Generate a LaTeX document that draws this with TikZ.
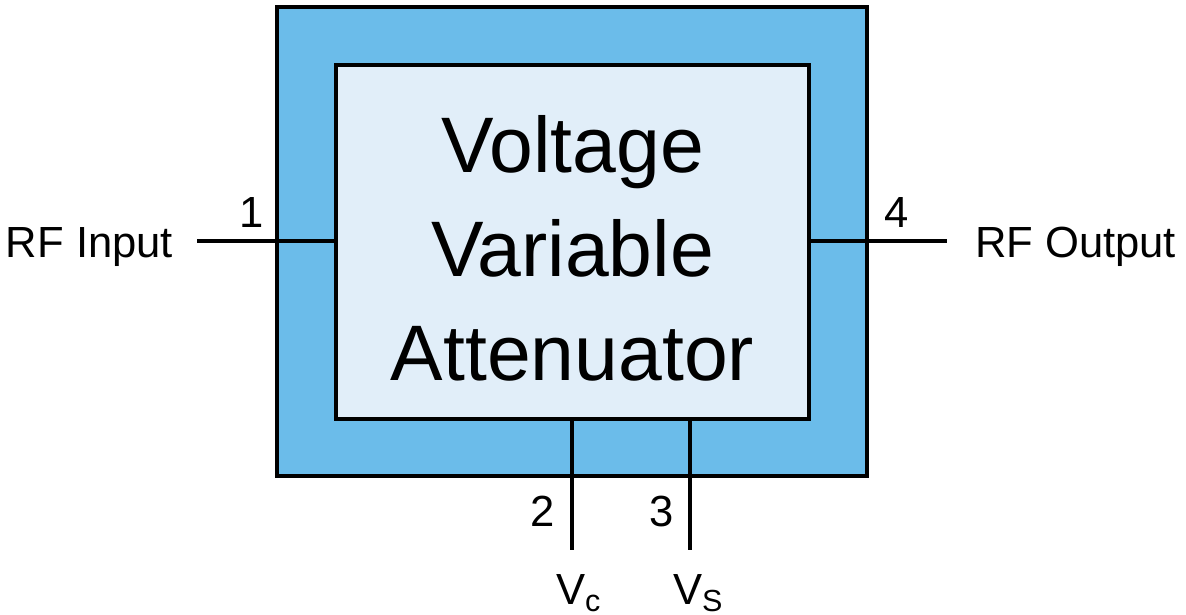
\documentclass[tikz,border=0pt]{standalone}
\usepackage{fontspec}
\setmainfont{Liberation Sans}
\definecolor{pkgblue}{HTML}{6BBCEA}
\definecolor{coreblue}{HTML}{E1EEF9}

\begin{document}
\begin{tikzpicture}[line width=1.15pt,
	pin/.style={font=\fontsize{12.4}{14}\selectfont, anchor=base},
	sig/.style={font=\fontsize{12.4}{14}\selectfont, inner sep=0pt}]
	\useasboundingbox (0,0) rectangle (11.86,6.15);
	% package and core
	\node[draw=black, fill=pkgblue, minimum width=5.90cm, minimum height=4.69cm, inner sep=0pt] (pkg) at (5.72,3.735) {};
	\node[draw=black, fill=coreblue, minimum width=4.73cm, minimum height=3.54cm, inner sep=0pt] (vva) at (5.725,3.73) {};
	\node[align=center, font=\fontsize{22.4}{29.6}\selectfont] (vvaText) at (5.725,3.67) {Voltage\\Variable\\Attenuator};
	
	% pin ends
	\coordinate (inEnd) at (1.97,3.74);
	\coordinate (outEnd) at (9.47,3.74);
	\coordinate (vcEnd) at (5.72,0.65);
	\coordinate (vsEnd) at (6.90,0.65);
	
	\draw (vva.west |- inEnd) -- (inEnd);
	\draw (vva.east |- outEnd) -- (outEnd);
	\draw (vcEnd |- vva.south) -- (vcEnd);
	\draw (vsEnd |- vva.south) -- (vsEnd);
	
	% labels
	\node[pin] (p1) at (2.52,3.87) {1};
	\node[pin] (p4) at (8.97,3.87) {4};
	\node[pin] (p2) at (5.43,0.88) {2};
	\node[pin] (p3) at (6.62,0.88) {3};
	\node[sig, anchor=base east] (rfin) at (1.75,3.57) {RF Input};
	\node[sig, anchor=base west] (rfout) at (9.73,3.57) {RF Output};
	\node[sig, anchor=base west] (vc) at (5.54,0.10) {V\textsubscript{c}};
	\node[sig, anchor=base west] (vs) at (6.71,0.10) {V\textsubscript{S}};
\end{tikzpicture}
\end{document}
